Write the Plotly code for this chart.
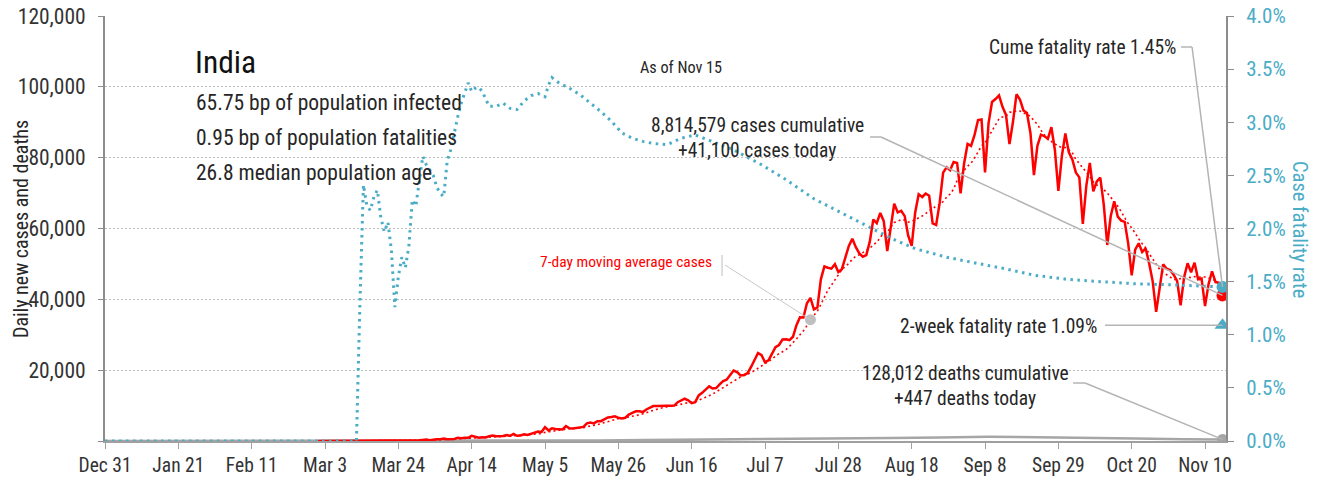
import pandas as pd
import plotly.graph_objects as go

FONT = "Roboto Condensed, Liberation Sans, sans-serif"
RED = "#FF0000"
TEAL = "#4BACC6"
GREY = "#A6A6A6"
INK = "#262626"

# daily new cases, India 2020 (by month, from Mar 1)
cases_mar = [0, 2, 1, 22, 2, 1, 3, 5, 4, 6, 10, 11, 6, 16, 3, 23, 14, 14, 22, 50,
             77, 89, 103, 37, 121, 70, 160, 100, 93, 187, 309]
cases_apr = [437, 235, 478, 525, 505, 704, 508, 485, 591, 896, 768, 918, 905, 1463, 1118,
             941, 1076, 991, 1334, 1553, 1336, 1383, 1409, 1684, 1429, 1975, 1463, 1543, 1897, 1718]
cases_may = [1993, 2293, 2644, 2553, 3900, 2958, 3561, 3390, 3320, 3277, 4213, 3604, 3525,
             3722, 3967, 3970, 4987, 5242, 4970, 5611, 5609, 6088, 6654, 6767, 6977, 6535,
             6387, 6566, 7466, 7964, 8380]
cases_jun = [8392, 8171, 8909, 9304, 9851, 9887, 9971, 9983, 9987, 9985, 9996, 10956, 11458,
             11929, 11502, 10667, 10974, 12881, 13586, 14516, 15413, 14821, 14933, 15968,
             16922, 17296, 18552, 19906, 19459, 18522]
cases_jul = [18653, 19148, 20903, 22771, 24850, 24248, 22252, 22752, 24879, 26506, 27114,
             28637, 28701, 28498, 29429, 32695, 34956, 34884, 38902, 40425, 37148, 37724,
             45720, 49310, 48916, 48661, 49931, 47704, 48513, 52123, 55078]
cases_aug = [57118, 54735, 52972, 52050, 52509, 56282, 62538, 61537, 64399, 62064, 53601,
             60963, 66999, 64553, 65002, 63490, 57981, 55079, 64531, 69652, 68898, 69878,
             69239, 61408, 60975, 67151, 75760, 77266, 76472, 78761, 78512]
cases_sep = [69921, 78357, 83883, 83341, 86432, 90632, 90802, 75809, 89706, 95735, 96551,
             97570, 94372, 92071, 83809, 90123, 97894, 96424, 93337, 92605, 86961, 75083,
             83347, 86508, 86052, 85362, 88600, 82170, 70589, 80472]
cases_oct = [86821, 81484, 79476, 75829, 74442, 61267, 72049, 78524, 70496, 73272, 74383,
             66732, 55342, 63509, 67708, 63371, 62212, 61871, 55722, 46790, 54044, 55838,
             53370, 54366, 50129, 45148, 36469, 43893, 49881, 48648, 48268]
cases_nov = [46963, 45231, 38310, 46253, 50209, 47638, 50357, 45674, 45903, 38074, 44281,
             47905, 44879, 44684, 41100]

# cumulative case fatality rate, %
cfr_dates = ["2019-12-31", "2020-03-12", "2020-03-13", "2020-03-14", "2020-03-15", "2020-03-16",
             "2020-03-17", "2020-03-18", "2020-03-19", "2020-03-20", "2020-03-21", "2020-03-22",
             "2020-03-23", "2020-03-24", "2020-03-25", "2020-03-26", "2020-03-27", "2020-03-28",
             "2020-03-29", "2020-03-30", "2020-03-31", "2020-04-01", "2020-04-02", "2020-04-03",
             "2020-04-04", "2020-04-05", "2020-04-06", "2020-04-07", "2020-04-08", "2020-04-09",
             "2020-04-10", "2020-04-11", "2020-04-12", "2020-04-13", "2020-04-14", "2020-04-15",
             "2020-04-16", "2020-04-17", "2020-04-18", "2020-04-19", "2020-04-21", "2020-04-23",
             "2020-04-25", "2020-04-27", "2020-04-29", "2020-05-01", "2020-05-03", "2020-05-05",
             "2020-05-06", "2020-05-07", "2020-05-09", "2020-05-12", "2020-05-15", "2020-05-18",
             "2020-05-21", "2020-05-24", "2020-05-27", "2020-05-30", "2020-06-02", "2020-06-05",
             "2020-06-09", "2020-06-13", "2020-06-17", "2020-06-21", "2020-06-28", "2020-07-06",
             "2020-07-13", "2020-07-21", "2020-07-28", "2020-08-05", "2020-08-12", "2020-08-19",
             "2020-08-28", "2020-09-06", "2020-09-14", "2020-09-22", "2020-10-02", "2020-10-11",
             "2020-10-21", "2020-10-31", "2020-11-09", "2020-11-15"]
cfr_pct = [0, 0, 1.30, 2.41, 2.21, 2.17,
           2.30, 2.36, 2.10, 1.97, 2.06, 1.80,
           1.26, 1.55, 1.73, 1.63, 1.83, 2.27,
           2.21, 2.43, 2.68, 2.60, 2.55, 2.50,
           2.39, 2.33, 2.30, 2.64, 2.74, 2.90,
           3.05, 3.18, 3.27, 3.37, 3.29, 3.32,
           3.33, 3.29, 3.22, 3.15, 3.15, 3.18,
           3.13, 3.12, 3.20, 3.25, 3.27, 3.24,
           3.35, 3.42, 3.37, 3.32, 3.26, 3.18,
           3.10, 3.01, 2.90, 2.85, 2.82, 2.80,
           2.79, 2.85, 2.88, 2.83, 2.74, 2.60,
           2.46, 2.28, 2.16, 2.03, 1.91, 1.81,
           1.73, 1.67, 1.62, 1.56, 1.52, 1.50,
           1.48, 1.47, 1.46, 1.45]

# daily deaths (sparse)
death_dates = ["2019-12-31", "2020-03-11", "2020-03-25", "2020-04-08", "2020-04-22",
               "2020-05-06", "2020-05-20", "2020-06-03", "2020-06-17", "2020-07-01",
               "2020-07-15", "2020-07-29", "2020-08-12", "2020-08-26", "2020-09-09",
               "2020-09-23", "2020-10-07", "2020-10-21", "2020-11-04", "2020-11-15"]
deaths = [0, 0, 4, 20, 50, 95, 140, 260, 340, 510, 600, 770, 830, 1020, 1170,
          1090, 970, 700, 510, 447]

two_week_cfr = 1.09
ma_marker_day = "2020-07-20"

cases = (cases_mar + cases_apr + cases_may + cases_jun + cases_jul + cases_aug
         + cases_sep + cases_oct + cases_nov)
days = pd.date_range("2020-03-01", periods=len(cases), freq="D")
s = pd.Series(cases, index=days)
ma7 = s.rolling(7).mean()
last_day = days[-1]

# pixel helpers in page coordinates (plot area 105..1226 x 16..441)
X0 = pd.Timestamp("2019-12-31")
PX_PER_DAY = 3.492


def px(x):
    return (x - 105) / 1121


def py(y):
    return (441 - y) / 425


def xd(x):
    return X0 + pd.Timedelta(days=(x - 105) / PX_PER_DAY)


def yl(y):
    return (441 - y) / 425 * 120000


def yr(y):
    return (441 - y) / 425 * 4


fig = go.Figure()
fig.add_trace(go.Scatter(x=death_dates, y=deaths, mode="lines",
                         line=dict(color=GREY, width=2.5)))
fig.add_trace(go.Scatter(x=days, y=s, mode="lines",
                         line=dict(color=RED, width=2.5)))
fig.add_trace(go.Scatter(x=days, y=ma7, mode="lines",
                         line=dict(color=RED, width=1.6, dash="2px,3px")))
fig.add_trace(go.Scatter(x=cfr_dates, y=cfr_pct, mode="lines", yaxis="y2",
                         line=dict(color=TEAL, width=3, dash="2.5px,4.5px")))

# end markers
fig.add_trace(go.Scatter(x=[ma_marker_day], y=[ma7.loc[ma_marker_day]], mode="markers",
                         marker=dict(color="#BFBFBF", size=11)))
fig.add_trace(go.Scatter(x=[death_dates[-1]], y=[deaths[-1]], mode="markers",
                         marker=dict(color=GREY, size=11)))
fig.add_trace(go.Scatter(x=[last_day], y=[cases[-1]], mode="markers",
                         marker=dict(color=RED, size=12)))
fig.add_trace(go.Scatter(x=[cfr_dates[-1]], y=[cfr_pct[-1]], mode="markers", yaxis="y2",
                         marker=dict(color=TEAL, size=12)))
fig.add_trace(go.Scatter(x=[last_day], y=[two_week_cfr], mode="markers", yaxis="y2",
                         marker=dict(color=TEAL, size=14, symbol="triangle-up")))

# leader lines
lead = dict(color="#B4B4B4", width=1.5)
shapes = [
    dict(type="line", xref="x", yref="y", x0=xd(870), y0=yl(137), x1=xd(881), y1=yl(137), line=lead),
    dict(type="line", xref="x", yref="y", x0=xd(881), y0=yl(137), x1=last_day, y1=cases[-1], line=lead),
    dict(type="line", xref="x", yref="y2", x0=xd(1181), y0=yr(47), x1=xd(1192), y1=yr(47), line=lead),
    dict(type="line", xref="x", yref="y2", x0=xd(1192), y0=yr(47), x1=last_day, y1=cfr_pct[-1], line=lead),
    dict(type="line", xref="x", yref="y2", x0=xd(1105), y0=two_week_cfr, x1=last_day, y1=two_week_cfr, line=lead),
    dict(type="line", xref="x", yref="y", x0=xd(1073), y0=yl(383), x1=xd(1085), y1=yl(383), line=lead),
    dict(type="line", xref="x", yref="y", x0=xd(1085), y0=yl(383), x1=last_day, y1=deaths[-1], line=lead),
    dict(type="line", xref="x", yref="y", x0=xd(722), y0=yl(255), x1=xd(722), y1=yl(276),
         line=dict(color="#BFBFBF", width=1)),
    dict(type="line", xref="x", yref="y", x0=xd(725), y0=yl(265), x1=ma_marker_day,
         y1=ma7.loc[ma_marker_day], line=dict(color="#C8C8C8", width=1)),
]


def note(text, x, y, size=19.5, anchor="left", color=INK, **kw):
    return dict(text=text, x=px(x), y=py(y), xref="paper", yref="paper", showarrow=False,
                xanchor=anchor, yanchor="middle", font=dict(family=FONT, size=size, color=color),
                **kw)


annotations = [
    note("India", 193, 62, size=31.5, color="#111111"),
    note("65.75 bp of population infected", 194, 102, size=21.5),
    note("0.95 bp of population fatalities", 194, 137, size=21.5),
    note("26.8 median population age", 194, 172, size=21.5),
    note("As of Nov 15", 681, 67, size=16.2, anchor="center"),
    note("8,814,579 cases cumulative", 757, 125, anchor="center"),
    note("+41,100 cases today", 757, 150, anchor="center"),
    note("Cume fatality rate 1.45%", 1178, 47, anchor="right"),
    note("2-week fatality rate 1.09%", 1099, 326, anchor="right"),
    note("128,012 deaths cumulative", 965, 373, anchor="center"),
    note("+447 deaths today", 965, 398, anchor="center"),
    note("7-day moving average cases", 714, 262, size=15.5, anchor="right", color=RED),
    note("Daily new cases and deaths", 21, 229, size=20, anchor="center", textangle=-90),
    note("Case fatality rate", 1300, 229, size=20.5, anchor="center", color=TEAL, textangle=90),
]

# the page adds an 8px body margin, so the figure is 8px smaller than the window
fig.update_layout(
    width=1311,
    height=474,
    margin=dict(l=97, r=93, t=8, b=41),
    paper_bgcolor="white",
    plot_bgcolor="white",
    showlegend=False,
    font=dict(family=FONT, color="#333333", size=20),
    shapes=shapes,
    annotations=annotations,
    xaxis=dict(
        type="date",
        range=["2019-12-31", "2020-11-16"],
        tick0="2019-12-31",
        dtick=21 * 86400000,
        tickformat="%b %-d",
        automargin=False,
        showgrid=False,
        showline=True,
        linecolor="#A0A0A0",
        linewidth=2,
        ticks="outside",
        ticklen=6,
        tickcolor="#A0A0A0",
        tickfont=dict(size=19.5, color="#333333"),
    ),
    yaxis=dict(
        range=[0, 120000],
        tickvals=[0, 20000, 40000, 60000, 80000, 100000, 120000],
        ticktext=["", "20,000", "40,000", "60,000", "80,000", "100,000", "120,000"],
        automargin=False,
        ticklabeloverflow="allow",
        showgrid=True,
        gridcolor="#BDBDBD",
        griddash="1.5px,2.5px",
        gridwidth=1,
        zeroline=False,
        showline=True,
        linecolor="#8C8C8C",
        linewidth=2,
        ticks="outside",
        ticklen=5,
        tickcolor="#8C8C8C",
        ticklabelstandoff=8,
        tickfont=dict(size=21.5, color="#333333"),
    ),
    yaxis2=dict(
        overlaying="y",
        side="right",
        range=[0, 4],
        dtick=0.5,
        tickformat=".1f",
        ticksuffix="%",
        automargin=False,
        ticklabeloverflow="allow",
        showgrid=False,
        zeroline=False,
        showline=True,
        linecolor="#8C8C8C",
        linewidth=2,
        ticks="outside",
        ticklen=6,
        tickcolor="#8C8C8C",
        ticklabelstandoff=8,
        tickfont=dict(size=21, color=TEAL),
    ),
)

fig.write_html("out.html")
